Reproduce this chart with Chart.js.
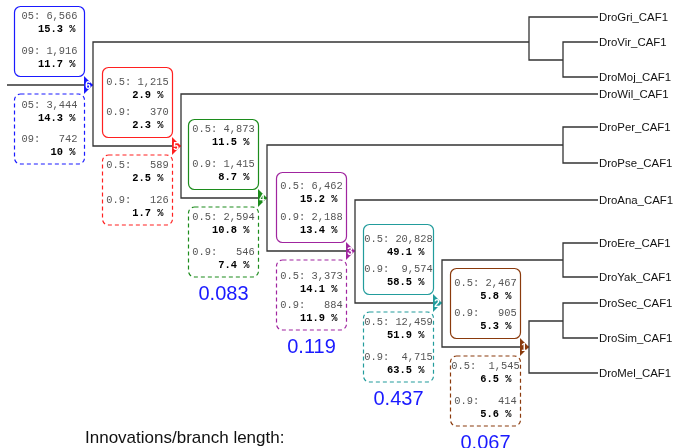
<!DOCTYPE html>
<html>
<head>
<meta charset="utf-8">
<script src="https://cdn.jsdelivr.net/npm/chart.js@4"></script>
<style>
  html, body { margin: 0; padding: 0; background: #fff; }
  #wrap { width: 675px; height: 448px; }
</style>
</head>
<body>
<div id="wrap"><canvas id="tree" width="675" height="448"></canvas></div>
<script>
// leaves of the tree (depth / row in tree units)
const leaves = ['DroGri_CAF1', 'DroVir_CAF1', 'DroMoj_CAF1', 'DroWil_CAF1', 'DroPer_CAF1', 'DroPse_CAF1',
  'DroAna_CAF1', 'DroEre_CAF1', 'DroYak_CAF1', 'DroSec_CAF1', 'DroSim_CAF1', 'DroMel_CAF1'];
const leafRow = [17, 42, 77, 94, 127, 163, 200, 243, 277, 303, 338, 373];
const tipDepth = 598;

// unlabelled inner clades
const clades = ['gv', 'vm', 'pp', 'ey', 'ss'];
const cladeDepth = [529, 563, 563, 563, 563];
const cladeRow = [42, 60, 145, 260, 321];

// numbered nodes with annotations
const nodes = ['6', '5', '4', '3', '2', '1'];
const nodeDepth = [93, 181, 267, 355, 442, 529];
const nodeRow = [85, 146, 198, 251, 303, 347];
const rootDepth = 7;

const edges = [
  ['root', '6'], ['6', 'gv'], ['6', '5'],
  ['gv', 'DroGri_CAF1'], ['gv', 'vm'], ['vm', 'DroVir_CAF1'], ['vm', 'DroMoj_CAF1'],
  ['5', 'DroWil_CAF1'], ['5', '4'],
  ['4', 'pp'], ['4', '3'], ['pp', 'DroPer_CAF1'], ['pp', 'DroPse_CAF1'],
  ['3', 'DroAna_CAF1'], ['3', '2'],
  ['2', 'ey'], ['2', '1'], ['ey', 'DroEre_CAF1'], ['ey', 'DroYak_CAF1'],
  ['1', 'ss'], ['1', 'DroMel_CAF1'], ['ss', 'DroSec_CAF1'], ['ss', 'DroSim_CAF1']
];

// box texts (solid = upper box, dashed = lower box)
const solid05 = ['05: 6,566', '0.5: 1,215', '0.5: 4,873', '0.5: 6,462', '0.5: 20,828', '0.5: 2,467'];
const solidPct05 = ['15.3', '2.9', '11.5', '15.2', '49.1', '5.8'];
const solid09 = ['09: 1,916', '0.9:   370', '0.9: 1,415', '0.9: 2,188', '0.9:  9,574', '0.9:   905'];
const solidPct09 = ['11.7', '2.3', '8.7', '13.4', '58.5', '5.3'];
const dash05 = ['05: 3,444', '0.5:   589', '0.5: 2,594', '0.5: 3,373', '0.5: 12,459', '0.5:  1,545'];
const dashPct05 = ['14.3', '2.5', '10.8', '14.1', '51.9', '6.5'];
const dash09 = ['09:   742', '0.9:   126', '0.9:   546', '0.9:   884', '0.9:  4,715', '0.9:   414'];
const dashPct09 = ['10', '1.7', '7.4', '11.9', '63.5', '5.6'];
const innovLength = [null, null, 0.083, 0.119, 0.437, 0.067];

const nodeColors = ['#1a1aff', '#ff2020', '#1c8c1c', '#a0259f', '#229c9c', '#8a3a0c'];
const solidFirst = [10, 15, 10, 14, 15, 15];
const dashFirst = [11, 10, 10, 16, 10, 10];

const pos = { root: [rootDepth, nodeRow[0]] };
leaves.forEach((n, i) => pos[n] = [tipDepth, leafRow[i]]);
clades.forEach((n, i) => pos[n] = [cladeDepth[i], cladeRow[i]]);
nodes.forEach((n, i) => pos[n] = [nodeDepth[i], nodeRow[i]]);

const datasets = edges.map(([p, c]) => ({
  data: p === 'root'
    ? [{ x: pos.root[0], y: pos[c][1] }, { x: pos[c][0], y: pos[c][1] }]
    : [{ x: pos[p][0], y: pos[p][1] }, { x: pos[p][0], y: pos[c][1] }, { x: pos[c][0], y: pos[c][1] }],
  showLine: true,
  borderColor: '#333',
  borderWidth: 1.3,
  pointRadius: 0,
  tension: 0
}));

const annot = {
  id: 'annot',
  afterDatasetsDraw(chart) {
    const ctx = chart.ctx;
    const sx = chart.scales.x, sy = chart.scales.y;
    ctx.save();

    // leaf labels
    ctx.font = '11.4px "Liberation Sans", Arial, sans-serif';
    ctx.fillStyle = '#111';
    ctx.textBaseline = 'middle';
    ctx.textAlign = 'left';
    leaves.forEach((n, i) => {
      ctx.fillText(n, sx.getPixelForValue(tipDepth) + 1, sy.getPixelForValue(leafRow[i]) + 1);
    });

    nodes.forEach((n, i) => {
      const nx = sx.getPixelForValue(nodeDepth[i]);
      const ny = sy.getPixelForValue(nodeRow[i]);
      const col = nodeColors[i];
      const bx = nx - 8.5 - 70;

      const drawBox = (top, dashed, first, l1, p1, l2, p2) => {
        ctx.strokeStyle = col;
        ctx.lineWidth = 1.2;
        ctx.setLineDash(dashed ? [4, 3] : []);
        ctx.beginPath();
        ctx.roundRect(bx, top, 70, 70, 6);
        ctx.stroke();
        ctx.setLineDash([]);
        ctx.textBaseline = 'middle';
        ctx.font = '10.4px "Liberation Mono", monospace';
        ctx.fillStyle = '#555';
        ctx.textAlign = 'center';
        ctx.fillText(l1, bx + 35, top + first);
        ctx.fillText(l2, bx + 35, top + 45);
        ctx.font = 'bold 10.4px "Liberation Mono", monospace';
        ctx.fillStyle = '#000';
        ctx.textAlign = 'right';
        ctx.fillText(p1 + ' %', bx + 61, top + first + 13);
        ctx.fillText(p2 + ' %', bx + 61, top + 58);
      };
      drawBox(ny - 8.5 - 70, false, solidFirst[i], solid05[i], solidPct05[i], solid09[i], solidPct09[i]);
      drawBox(ny + 9, true, dashFirst[i], dash05[i], dashPct05[i], dash09[i], dashPct09[i]);

      // node marker
      ctx.fillStyle = col;
      ctx.beginPath();
      ctx.moveTo(nx, ny);
      ctx.lineTo(nx - 9, ny - 9);
      ctx.lineTo(nx - 9, ny + 9);
      ctx.closePath();
      ctx.fill();
      ctx.fillStyle = '#fff';
      ctx.font = 'bold 10px "Liberation Sans", Arial, sans-serif';
      ctx.textAlign = 'center';
      ctx.fillText(n, nx - 5, ny + 1);

      if (innovLength[i] !== null) {
        ctx.fillStyle = '#1a1aff';
        ctx.font = '20px "Liberation Sans", Arial, sans-serif';
        ctx.textAlign = 'center';
        ctx.fillText(innovLength[i].toFixed(3), bx + 35, ny + 9 + 70 + 17);
      }
    });

    ctx.fillStyle = '#111';
    ctx.font = '17px "Liberation Sans", Arial, sans-serif';
    ctx.textAlign = 'left';
    ctx.fillText('Innovations/branch length:', 85, 438);
    ctx.restore();
  }
};

new Chart(document.getElementById('tree'), {
  type: 'scatter',
  data: { datasets },
  options: {
    responsive: false,
    animation: false,
    layout: { padding: 0 },
    plugins: { legend: { display: false }, tooltip: { enabled: false } },
    scales: {
      x: { type: 'linear', min: 0, max: 675, display: false },
      y: { type: 'linear', min: 0, max: 448, reverse: true, display: false }
    }
  },
  plugins: [annot]
});
</script>
</body>
</html>
